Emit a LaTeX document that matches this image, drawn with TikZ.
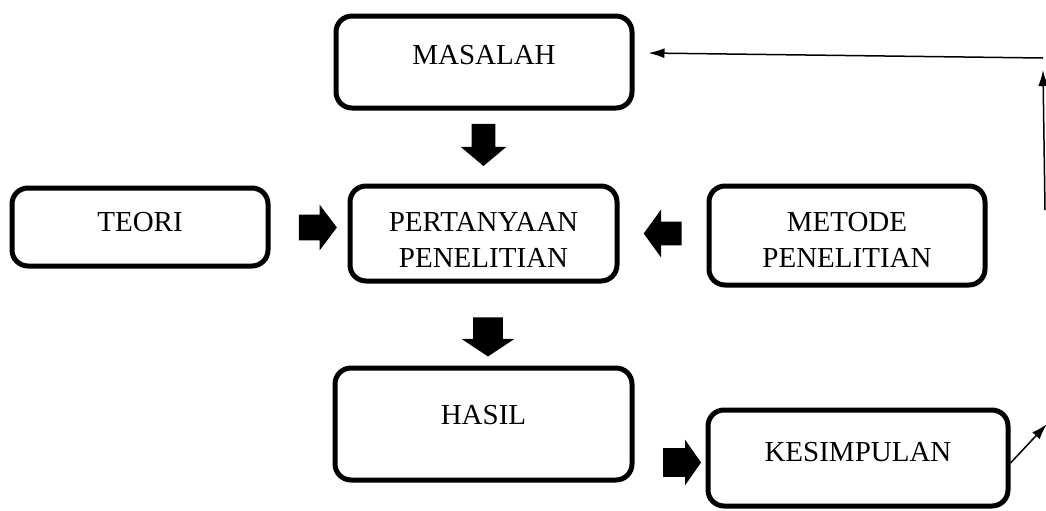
\documentclass[tikz,border=0pt]{standalone}
\usepackage{fontspec}
\setmainfont{Liberation Serif}
\usetikzlibrary{shapes.arrows,arrows.meta}

\begin{document}
\begin{tikzpicture}[x=0.5pt, y=-0.5pt,
                    box/.style = {draw, line width=2.5pt, rounded corners=8pt,
                    align=center, inner sep=0pt,
                    font=\fontsize{14.5}{18}\selectfont},
                    blockarrow/.style = {single arrow, fill=black, draw=none,
                    inner xsep=0pt, single arrow head indent=0pt},
                    feedback/.style = {line width=0.75pt,
                    -{Latex[length=8pt,width=5pt]}}]
  \useasboundingbox (0,0) rectangle (1046,510);
  % boxes
  \node[box, minimum width=148pt, minimum height=46pt, text depth=7pt]
    (masalah) at (484,62) {MASALAH};
  \node[box, minimum width=128pt, minimum height=39pt, text depth=5pt]
    (teori) at (140,227) {TEORI};
  \node[box, minimum width=133.5pt, minimum height=47.5pt, text height=33.5pt]
    (pertanyaan) at (483.5,233.5) {PERTANYAAN\\PENELITIAN};
  \node[box, minimum width=138pt, minimum height=49.5pt, text height=32pt]
    (metode) at (847,235.5) {METODE\\PENELITIAN};
  \node[box, minimum width=148.5pt, minimum height=56pt, text depth=9pt]
    (hasil) at (483.5,424) {HASIL};
  \node[box, minimum width=150pt, minimum height=48pt, text depth=6pt]
    (kesimpulan) at (858,458) {KESIMPULAN};
  % block arrows
  \node[blockarrow, rotate=-90, minimum height=21pt, inner ysep=5.75pt,
    single arrow head extend=5.5pt, single arrow tip angle=100]
    (a1) at (483.5,140) {};
  \node[blockarrow, minimum height=19pt, inner ysep=6.25pt,
    single arrow head extend=5pt, single arrow tip angle=106]
    (a2) at (313,227.5) {};
  \node[blockarrow, rotate=180, minimum height=19pt, inner ysep=5.75pt,
    single arrow head extend=6pt, single arrow tip angle=108]
    (a3) at (667,233.5) {};
  \node[blockarrow, rotate=-90, minimum height=19.5pt, inner ysep=7.25pt,
    single arrow head extend=5.75pt, single arrow tip angle=113]
    (a4) at (488,332) {};
  \node[blockarrow, minimum height=19pt, inner ysep=7pt,
    single arrow head extend=4.25pt, single arrow tip angle=110]
    (a5) at (677,462.5) {};
  % feedback line
  \coordinate (k1) at (1047,424);
  \coordinate (up1) at (1045,210);
  \coordinate (up2) at (1043,70);
  \coordinate (top) at (1043,58);
  \draw[feedback] ([yshift=-2.5pt]kesimpulan.east) -- (k1);
  \draw[feedback] (up1) -- (up2);
  \draw[feedback] (top) -- ([shift={(7pt,4.5pt)}]masalah.east);
\end{tikzpicture}
\end{document}
